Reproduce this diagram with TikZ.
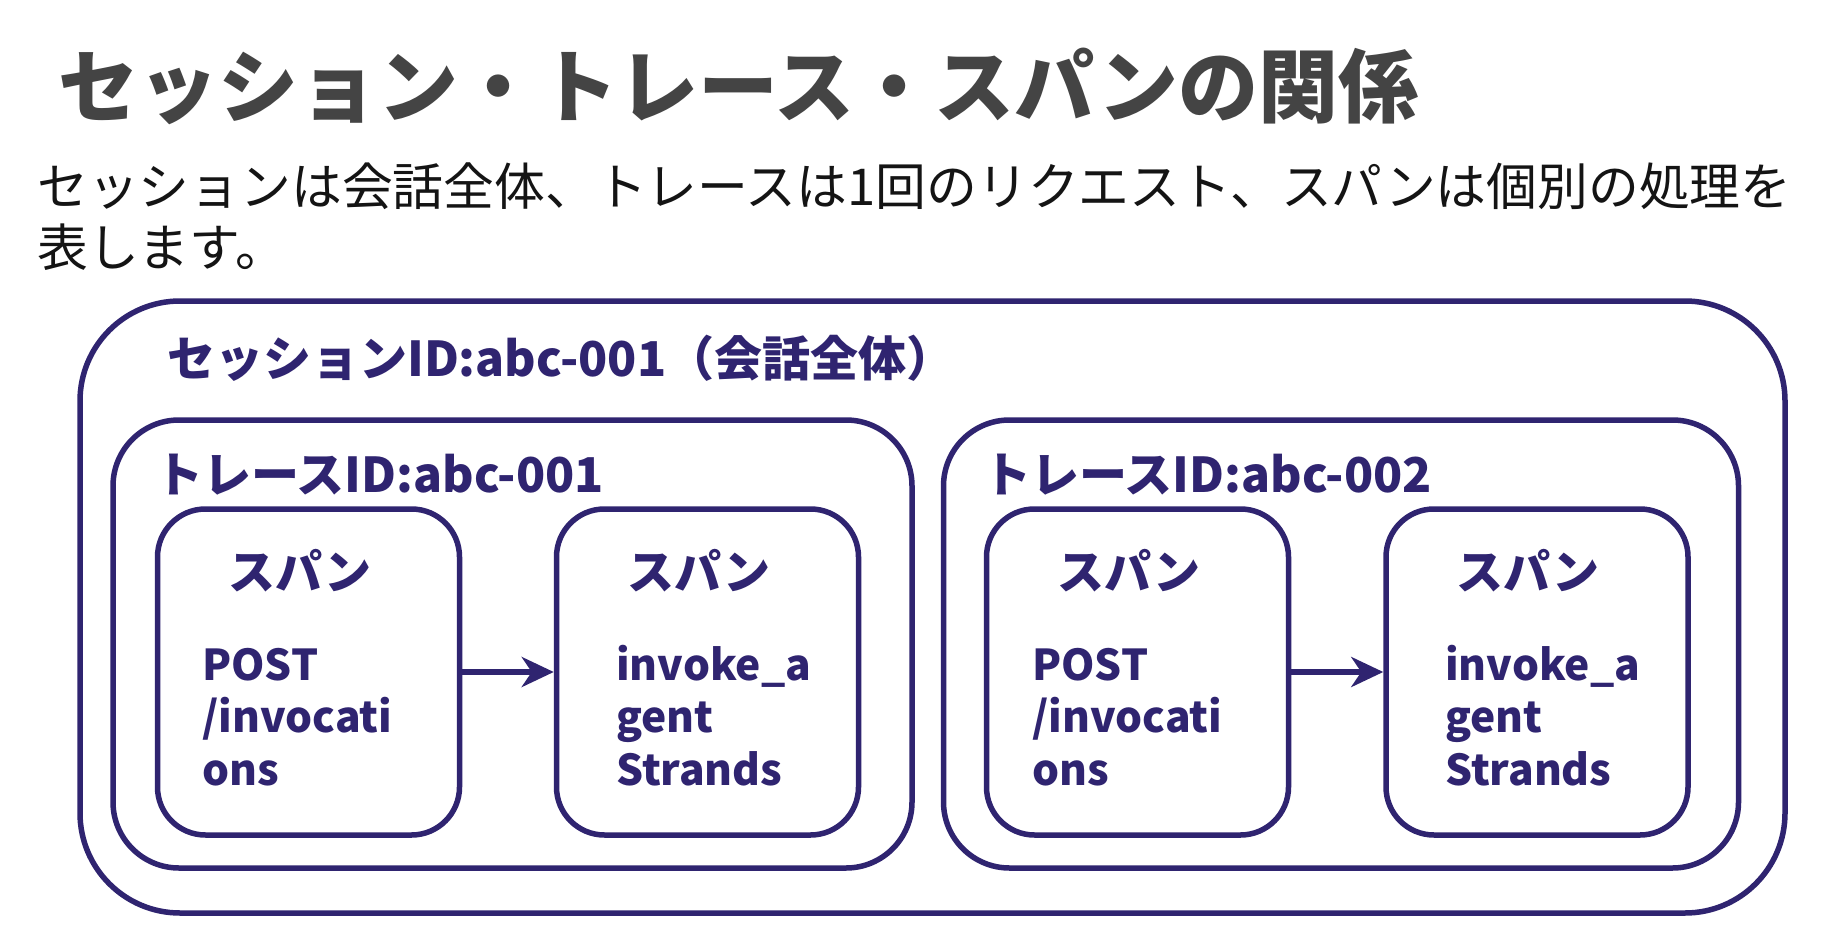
\documentclass[tikz,border=0pt]{standalone}
\usepackage{fontspec}
\setmainfont{Noto Sans CJK JP}
\usetikzlibrary{arrows.meta}
\definecolor{ink}{RGB}{47,36,112}
\definecolor{titlegray}{RGB}{68,68,68}
\definecolor{bodyblack}{RGB}{20,20,20}
\tikzset{
  frame/.style={draw=ink, line width=5.5pt, inner sep=0pt, fill=none},
  outerbox/.style={frame, rounded corners=100pt},
  tracebox/.style={frame, rounded corners=66pt},
  spanbox/.style={frame, rounded corners=48pt, minimum width=302pt, minimum height=326pt},
  lbl/.style={text=ink, inner sep=0pt, font=\bfseries\fontsize{48}{54}\selectfont},
  spanttl/.style={text=ink, inner sep=0pt, font=\bfseries\fontsize{47}{52}\selectfont, anchor=base},
  spanbody/.style={text=ink, inner sep=0pt, font=\bfseries\fontsize{42.5}{52.5}\selectfont, anchor=base west, align=left, text width=260pt},
  flow/.style={draw=ink, line width=5.5pt, -{Stealth[length=32pt,width=30pt,inset=10pt]}}
}
\begin{document}
\begin{tikzpicture}[x=1pt,y=-1pt]
\useasboundingbox (0,0) rectangle (1822,952);
\fill[white] (0,0) rectangle (1822,952);
% title
\node[anchor=base west, inner sep=0pt, text=titlegray, font=\bfseries\fontsize{80}{90}\selectfont] (title) at (58,117) {セッション・トレース・スパンの関係};
\node[anchor=base west, inner sep=0pt, text=bodyblack, font=\fontsize{50.8}{61}\selectfont, align=left, text width=1800pt] (sub) at (37,206) {セッションは会話全体、トレースは1回のリクエスト、スパンは個別の処理を\\表します。};
% boxes
\node[outerbox, minimum width=1705pt, minimum height=612pt] (outer) at (932.5,607) {};
\node[tracebox, minimum width=799pt, minimum height=448pt] (t1) at (512.5,644) {};
\node[tracebox, minimum width=795pt, minimum height=448pt] (t2) at (1341,644) {};
\node[spanbox] (s1) at (308.5,672) {};
\node[spanbox] (s2) at (707.5,672) {};
\node[spanbox] (s3) at (1137.5,672) {};
\node[spanbox] (s4) at (1537,672) {};
% labels
\node[lbl, anchor=base west] (sesslbl) at (167,376) {セッションID:abc-001（会話全体）};
\node[lbl, anchor=base west] (t1lbl) at (155,492) {トレースID:abc-001};
\node[lbl, anchor=base west] (t2lbl) at (983,492) {トレースID:abc-002};
\node[spanttl] (s1t) at (300,589) {スパン};
\node[spanttl] (s2t) at (699,589) {スパン};
\node[spanttl] (s3t) at (1129,589) {スパン};
\node[spanttl] (s4t) at (1528,589) {スパン};
\node[spanbody] (s1b) at (202,680) {POST\\/invocati\\ons};
\node[spanbody] (s2b) at (616,680) {invoke\_a\\gent\\Strands};
\node[spanbody] (s3b) at (1032,680) {POST\\/invocati\\ons};
\node[spanbody] (s4b) at (1445,680) {invoke\_a\\gent\\Strands};
% arrows
\draw[flow] (s1.east) -- (s2.west);
\draw[flow] (s3.east) -- (s4.west);
\end{tikzpicture}
\end{document}
